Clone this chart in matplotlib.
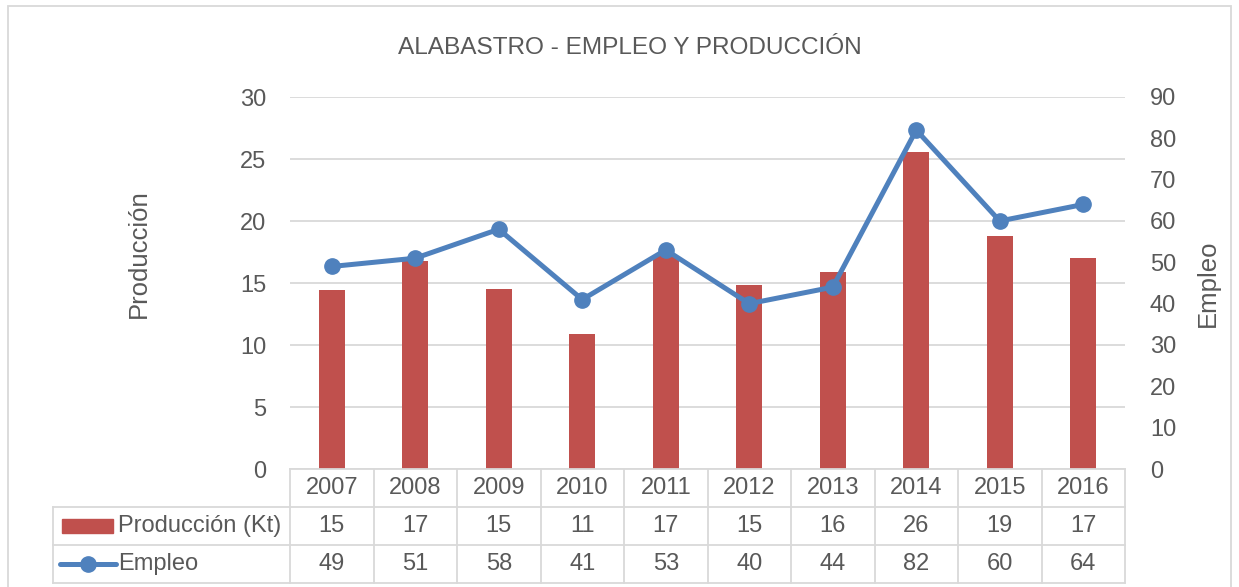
import matplotlib.pyplot as plt
from matplotlib.patches import Rectangle
from matplotlib.lines import Line2D
import matplotlib.transforms as mtransforms

# Datos
anios = ['2007', '2008', '2009', '2010', '2011', '2012', '2013', '2014', '2015', '2016']
produccion = [14.4, 16.8, 14.5, 10.9, 17.2, 14.8, 15.9, 25.6, 18.8, 17.0]
produccion_tabla = ['15', '17', '15', '11', '17', '15', '16', '26', '19', '17']
empleo = [49, 51, 58, 41, 53, 40, 44, 82, 60, 64]

rojo = '#C0504D'
azul = '#4F81BD'
gris_texto = '#595959'
gris_linea = '#D9D9D9'

plt.rcParams['font.family'] = ['Liberation Sans', 'DejaVu Sans']
fs = 17

fig = plt.figure(figsize=(12.39, 5.87), dpi=100)
W, H = 1239, 587
ax = fig.add_axes([290 / W, 1 - 469 / H, (1125 - 290) / W, (469 - 97) / H])
ax2 = ax.twinx()

x = list(range(len(anios)))
ax.bar(x, produccion, width=0.31, color=rojo, zorder=2)
ax.set_ylim(0, 30)
ax.set_yticks(range(0, 31, 5))
ax.set_xlim(-0.5, len(anios) - 0.5)
ax.set_xticks([])
ax.grid(axis='y', color=gris_linea, linewidth=1.3, zorder=0)
ax.set_axisbelow(True)

ax2.plot(x, empleo, color=azul, linewidth=3.6, marker='o', markersize=11, zorder=3)
ax2.set_ylim(0, 90)
ax2.set_yticks(range(0, 91, 10))

for a in (ax, ax2):
    for s in a.spines.values():
        s.set_visible(False)
ax.tick_params(axis='y', length=0, pad=17, labelsize=fs, labelcolor=gris_texto)
ax2.tick_params(axis='y', length=0, pad=18, labelsize=fs, labelcolor=gris_texto)

ax.set_ylabel('Producción', fontsize=18.5, color=gris_texto)
ax.yaxis.set_label_coords(-0.167, 0.58)
ax2.set_ylabel('Empleo', fontsize=18.5, color=gris_texto)
ax2.yaxis.set_label_coords(1.085, 0.5)

fig.text(630 / W, 1 - 48 / H, 'ALABASTRO - EMPLEO Y PRODUCCIÓN', ha='center', va='center',
         fontsize=17.6, color=gris_texto)

# Tabla de datos
trans = mtransforms.blended_transform_factory(ax.transData, ax.transAxes)
r0, r1, r2, r3 = 0.0, -38 / 372, -76 / 372, -114 / 372
x_izq = (53 - 290) / 835
lw = 1.3
kw = dict(color=gris_linea, linewidth=lw, clip_on=False)
ax.add_line(Line2D([-0.5, len(anios) - 0.5], [r0, r0], transform=trans, **kw))
for r in (r1, r2, r3):
    ax.add_line(Line2D([x_izq, 1], [r, r], transform=ax.transAxes, **kw))
ax.add_line(Line2D([x_izq, x_izq], [r1, r3], transform=ax.transAxes, **kw))
for i in range(len(anios) + 1):
    ax.add_line(Line2D([i - 0.5, i - 0.5], [r0, r3], transform=trans, **kw))

for i, anio in enumerate(anios):
    ax.text(i, (r0 + r1) / 2, anio, transform=trans, ha='center', va='center',
            fontsize=fs, color=gris_texto)
    ax.text(i, (r1 + r2) / 2, produccion_tabla[i], transform=trans, ha='center', va='center',
            fontsize=fs, color=gris_texto)
    ax.text(i, (r2 + r3) / 2, str(empleo[i]), transform=trans, ha='center', va='center',
            fontsize=fs, color=gris_texto)

# Claves de leyenda
ax.add_patch(Rectangle(((62 - 290) / 835, (r1 + r2) / 2 - 7 / 372), 51 / 835, 14 / 372,
                       transform=ax.transAxes, color=rojo, clip_on=False))
ax.text((118 - 290) / 835, (r1 + r2) / 2, 'Producción (Kt)', transform=ax.transAxes,
        ha='left', va='center', fontsize=fs, color=gris_texto)
ym = (r2 + r3) / 2
ax.add_line(Line2D([(60 - 290) / 835, (116 - 290) / 835], [ym, ym], transform=ax.transAxes,
                   color=azul, linewidth=3.6, solid_capstyle='round', clip_on=False))
ax.add_line(Line2D([(88 - 290) / 835], [ym], transform=ax.transAxes, color=azul,
                   marker='o', markersize=11, clip_on=False))
ax.text((118 - 290) / 835, ym, 'Empleo', transform=ax.transAxes,
        ha='left', va='center', fontsize=fs, color=gris_texto)

# Borde del gráfico
fig.add_artist(Rectangle((8 / W, -0.01), (1231 - 8) / W, 1 - 6 / H + 0.01,
                         transform=fig.transFigure, fill=False, edgecolor=gris_linea, linewidth=1.3))

fig.savefig('out.png', dpi=100)
